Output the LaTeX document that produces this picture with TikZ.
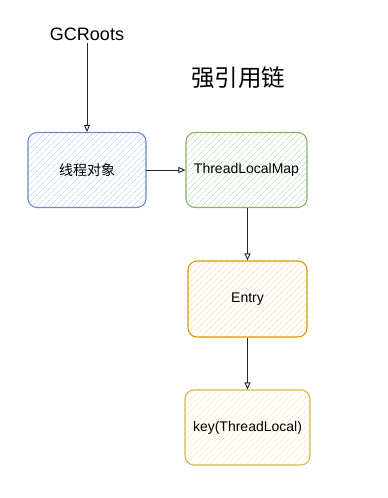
\documentclass[tikz,border=0pt]{standalone}
\usepackage{fontspec}
\setmainfont{Liberation Sans}
\newfontfamily\cjk{Noto Sans CJK SC}
\usetikzlibrary{patterns.meta,arrows.meta}
\definecolor{bluestroke}{HTML}{6C8EBF}
\definecolor{bluefill}{HTML}{C6D9F5}
\definecolor{greenstroke}{HTML}{82B366}
\definecolor{greenfill}{HTML}{C5E0C3}
\definecolor{orangestroke}{HTML}{D79B00}
\definecolor{orangefill}{HTML}{FFDDB8}
\definecolor{yellowstroke}{HTML}{D6B656}
\definecolor{yellowfill}{HTML}{FFEBB8}
\tikzset{
  box/.style={rounded corners=9pt, line width=1.1pt, minimum width=#1, minimum height=75pt, inner sep=0pt, font=\fontsize{14}{16}\selectfont},
  hatch/.style={pattern={Lines[angle=45,distance=4pt,line width=0.8pt]}, pattern color=#1},
  arr/.style={draw=black!85, line width=0.9pt, -{Triangle[open,length=7pt,width=6pt]}},
}
\begin{document}
\begin{tikzpicture}[x=1pt,y=-1pt]
\useasboundingbox (0,0) rectangle (388,498);
\node[font=\fontsize{18}{20}\selectfont, inner sep=2pt] (gc) at (87,34) {GCRoots};
\node[font=\fontsize{23.5}{26}\selectfont\cjk] (title) at (238,78) {强引用链};
\node[box=118pt, draw=bluestroke, hatch=bluefill] (thread) at (87,170) {\cjk 线程对象};
\node[box=121pt, draw=greenstroke, hatch=greenfill] (map) at (246.5,170) {ThreadLocalMap};
\node[box=119pt, draw=orangestroke, hatch=orangefill, minimum height=76pt] (entry) at (247.5,299) {Entry};
\node[box=125pt, draw=yellowstroke, hatch=yellowfill] (key) at (247.5,427.5) {key(ThreadLocal)};
\draw[arr] (gc.south) -- (thread.north);
\draw[arr] (thread.east) -- (map.west);
\draw[arr] (map.south -| entry.north) -- (entry.north);
\draw[arr] (entry.south) -- (key.north);
\end{tikzpicture}
\end{document}
